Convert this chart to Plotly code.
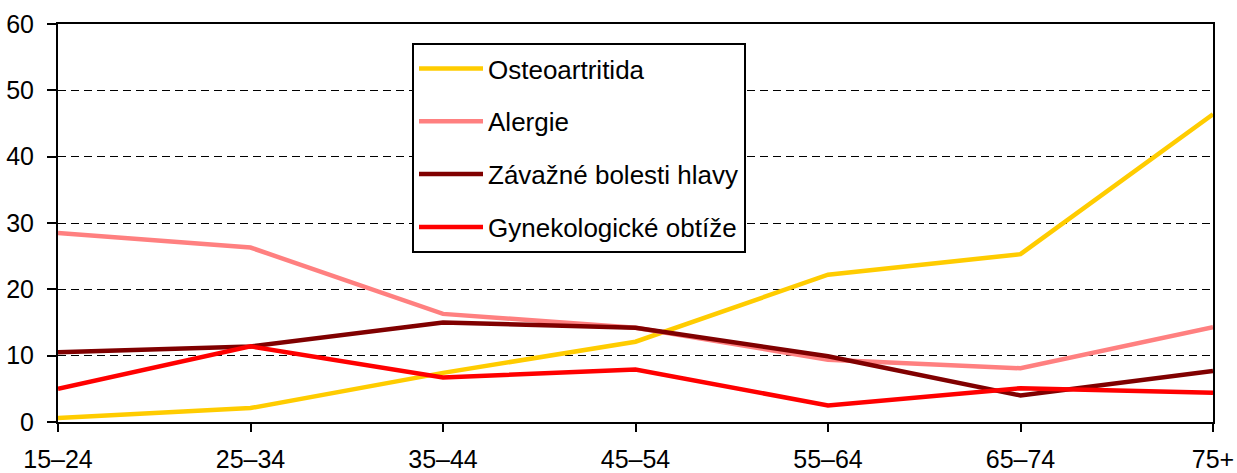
import plotly.graph_objects as go

categories = ["15–24", "25–34", "35–44", "45–54", "55–64", "65–74", "75+"]
osteo = [0.6, 2.1, 7.4, 12.1, 22.2, 25.3, 46.4]
alergie = [28.5, 26.3, 16.3, 14.2, 9.4, 8.1, 14.3]
bolesti = [10.5, 11.4, 15.0, 14.2, 9.9, 4.0, 7.7]
gyn = [5.0, 11.4, 6.7, 7.9, 2.5, 5.1, 4.4]

series = [
    ("Osteoartritida", osteo, "#FFCC00"),
    ("Alergie", alergie, "#FF8080"),
    ("Závažné bolesti hlavy", bolesti, "#800000"),
    ("Gynekologické obtíže", gyn, "#FF0000"),
]

xs = list(range(len(categories)))
fig = go.Figure()
for i, (name, vals, col) in enumerate(series):
    fig.add_trace(go.Scatter(x=xs, y=vals, name=name, mode="lines",
                             line=dict(color=col, width=4.5),
                             legendgroup=f"g{i}"))

fig.update_layout(
    template="none",
    width=1237, height=473,
    margin=dict(l=58, r=24, t=24, b=51, autoexpand=False),
    paper_bgcolor="white", plot_bgcolor="white",
    font=dict(family="Liberation Sans, Arial, sans-serif", size=25, color="black"),
    showlegend=True,
    legend=dict(x=0.3065, y=0.952, xanchor="left", yanchor="top",
                bordercolor="black", borderwidth=2, bgcolor="white",
                font=dict(size=26), traceorder="grouped", tracegroupgap=16,
                itemwidth=64),
    xaxis=dict(range=[0, 6], tickvals=xs, ticktext=categories, automargin=False,
               showline=True, linecolor="black", linewidth=2, mirror=True,
               ticks="outside", ticklen=8, tickwidth=2, tickcolor="black",
               showgrid=False, zeroline=False, ticklabelstandoff=6),
    yaxis=dict(range=[0, 60], dtick=10, automargin=False,
               showline=True, linecolor="black", linewidth=2, mirror=True,
               ticks="outside", ticklen=9, tickwidth=2, tickcolor="black",
               showgrid=True, gridcolor="black", gridwidth=1, griddash="8px,5px",
               zeroline=False, ticklabelstandoff=8),
)

fig.write_html("out.html", post_script="document.body.style.margin='0';",
               config={"displayModeBar": False})
